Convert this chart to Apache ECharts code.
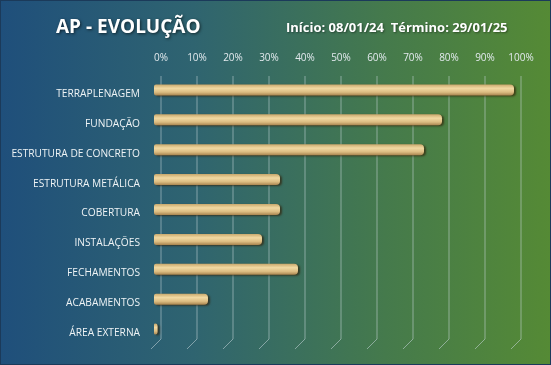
<!DOCTYPE html>
<html><head><meta charset="utf-8">
<script src="https://cdn.jsdelivr.net/npm/echarts@6/dist/echarts.min.js"></script>
<style>
html,body{margin:0;padding:0;}
#c{width:551px;height:365px;box-sizing:border-box;background:linear-gradient(to right,#1f4f7b 0%,#2f6470 35%,#457a4c 70%,#558a35 100%);border:1px solid #1b3a5a;}
</style></head><body>
<div id="c"></div>
<script>
const categories = ['TERRAPLENAGEM','FUNDAÇÃO','ESTRUTURA DE CONCRETO','ESTRUTURA METÁLICA','COBERTURA','INSTALAÇÕES','FECHAMENTOS','ACABAMENTOS','ÁREA EXTERNA'];
const progress = [100, 80, 75, 35, 35, 30, 40, 15, 1];
const ticks = [0,10,20,30,40,50,60,70,80,90,100];
const titleText = 'AP - EVOLUÇÃO';
const datesText = 'Início: 08/01/24  Término: 29/01/25';

const chart = echarts.init(document.getElementById('c'));
chart.setOption({
  animation:false,
  title:[
    {text:titleText,left:50,top:12,textStyle:{color:'#ffffff',fontFamily:'Open Sans',fontWeight:'bold',fontSize:19,textShadowColor:'rgba(0,0,0,0.6)',textShadowBlur:3,textShadowOffsetX:1,textShadowOffsetY:1}},
    {text:datesText,left:280,top:16,textStyle:{color:'#ffffff',fontFamily:'Open Sans',fontWeight:'bold',fontSize:13,textShadowColor:'rgba(0,0,0,0.4)',textShadowBlur:2,textShadowOffsetX:1,textShadowOffsetY:1}}
  ],
  grid:[
    {left:153,width:360,top:74,bottom:20},
    {left:160,width:360,top:75,bottom:25},
    {left:153,width:360,top:78,bottom:16}
  ],
  xAxis:[
    {gridIndex:0,type:'value',min:0,max:100,show:false},
    {gridIndex:1,type:'value',min:0,max:100,interval:10,position:'top',
     axisLine:{show:false},axisTick:{show:false},splitLine:{show:false},
     axisLabel:{formatter:'{value}%',color:'#e3eaee',fontFamily:'Open Sans',fontSize:10,margin:13}},
    {gridIndex:2,type:'value',min:0,max:100,show:false}
  ],
  yAxis:[
    {gridIndex:0,type:'category',data:categories,inverse:true,show:false},
    {gridIndex:1,type:'value',min:0,max:1,show:false},
    {gridIndex:2,type:'category',data:categories,inverse:true,
     axisLine:{show:false},axisTick:{show:false},
     axisLabel:{color:'#eef3f5',fontFamily:'Open Sans',fontSize:10.2,margin:14}}
  ],
  series:[
    {type:'custom',xAxisIndex:1,yAxisIndex:1,z:1,silent:true,
     data:ticks.map(t=>[t]),
     renderItem:function(params,api){
       const top = api.coord([api.value(0),1]);
       const bot = api.coord([api.value(0),0]);
       return {type:'polyline',shape:{points:[[top[0],top[1]],[bot[0],bot[1]],[bot[0]-10,bot[1]+10]]},
         style:{stroke:'rgba(200,215,220,0.55)',lineWidth:1,fill:null}};
     }},
    {type:'bar',xAxisIndex:0,yAxisIndex:0,z:3,data:progress,barWidth:11,
     itemStyle:{
       borderRadius:[2,4,4,2],
       color:new echarts.graphic.LinearGradient(0,0,0,1,[
         {offset:0,color:'#c9a86c'},{offset:0.35,color:'#f1d9a2'},{offset:0.7,color:'#dcbd82'},{offset:1,color:'#a8844f'}]),
       shadowColor:'rgba(50,30,5,0.65)',shadowBlur:2,shadowOffsetX:2,shadowOffsetY:1
     }}
  ]
});
</script>
</body></html>
